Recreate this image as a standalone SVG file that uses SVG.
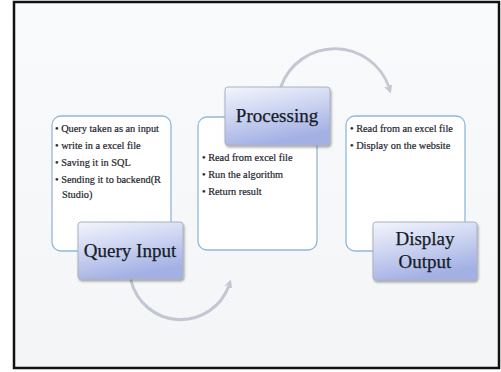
<svg xmlns="http://www.w3.org/2000/svg" width="501" height="372" viewBox="0 0 501 372">
  <style>
    .panel { fill: #ffffff; stroke: #93b7da; stroke-width: 1.3; }
    .label { fill: url(#labelFill); stroke: #aab2c2; stroke-width: 1; filter: url(#shadow); }
    .title { font-family: "Liberation Serif", "DejaVu Serif", serif; font-size: 19px; fill: #161c28; stroke: #161c28; stroke-width: 0.25; text-anchor: middle; }
    .item { font-family: "Liberation Serif", "DejaVu Serif", serif; font-size: 10.3px; fill: #23262d; stroke: #23262d; stroke-width: 0.2; }
    .arc-edge { fill: none; stroke: #c2c7d1; stroke-width: 3.2; stroke-linecap: round; }
    .arc-light { fill: none; stroke: #f4f6fa; stroke-width: 1.1; stroke-linecap: round; }
  </style>
  <defs>
    <linearGradient id="labelFill" x1="0" y1="0" x2="0.35" y2="1">
      <stop offset="0" stop-color="#f3f5fc"/>
      <stop offset="0.55" stop-color="#c9d1f0"/>
      <stop offset="1" stop-color="#a3b0e4"/>
    </linearGradient>
    <linearGradient id="bg" x1="0" y1="0" x2="0" y2="1">
      <stop offset="0" stop-color="#f9fafb"/>
      <stop offset="1" stop-color="#f4f5f7"/>
    </linearGradient>
    <filter id="shadow" x="-10%" y="-10%" width="125%" height="135%">
      <feDropShadow dx="1" dy="2" stdDeviation="1.3" flood-color="#3a3f4a" flood-opacity="0.45"/>
    </filter>
    <marker id="tip" viewBox="0 0 10 10" refX="3" refY="5" markerWidth="2.6" markerHeight="2.6" orient="auto">
      <path d="M0,0 L10,5 L0,10 Z" fill="#c2c7d1"/>
    </marker>
  </defs>

  <!-- page frame -->
  <rect x="0" y="0" width="501" height="372" fill="#ffffff"/>
  <rect x="14" y="2" width="485" height="366" fill="url(#bg)" stroke="#111111" stroke-width="2.5"/>

  <!-- cycle arrows -->
  <g id="connectors">
    <path class="arc-edge" d="M281,87 A57,57 0 0 1 389,88" marker-end="url(#tip)"/>
    <path class="arc-light" d="M283,87 A55.5,55.5 0 0 1 387,87"/>
    <path class="arc-edge" d="M131,280 A51,51 0 0 0 229,285" marker-end="url(#tip)"/>
    <path class="arc-light" d="M133,280 A49.5,49.5 0 0 0 227,285"/>
  </g>

  <g id="query-input">
    <rect class="panel" x="52" y="116" width="119" height="135" rx="9"/>
    <text class="item" x="55" y="132">• Query taken as an input</text>
    <text class="item" x="55" y="149">• write in a excel file</text>
    <text class="item" x="55" y="166">• Saving it in SQL</text>
    <text class="item" x="55" y="183">• Sending it to backend(R</text>
    <text class="item" x="62" y="198">Studio)</text>
    <rect class="label" x="78" y="222" width="105" height="57" rx="3"/>
    <text class="title" x="130" y="257">Query Input</text>
  </g>

  <g id="processing">
    <rect class="panel" x="198" y="117" width="119" height="133" rx="9"/>
    <text class="item" x="202" y="161">• Read from excel file</text>
    <text class="item" x="202" y="178">• Run the algorithm</text>
    <text class="item" x="202" y="195">• Return result</text>
    <rect class="label" x="225" y="87" width="105" height="58" rx="3"/>
    <text class="title" x="277" y="122">Processing</text>
  </g>

  <g id="display-output">
    <rect class="panel" x="346" y="116" width="119" height="135" rx="9"/>
    <text class="item" x="350" y="132">• Read from an excel file</text>
    <text class="item" x="350" y="149">• Display on the website</text>
    <rect class="label" x="373" y="222" width="104" height="58" rx="3"/>
    <text class="title" x="425" y="245">Display</text>
    <text class="title" x="425" y="268">Output</text>
  </g>
</svg>
